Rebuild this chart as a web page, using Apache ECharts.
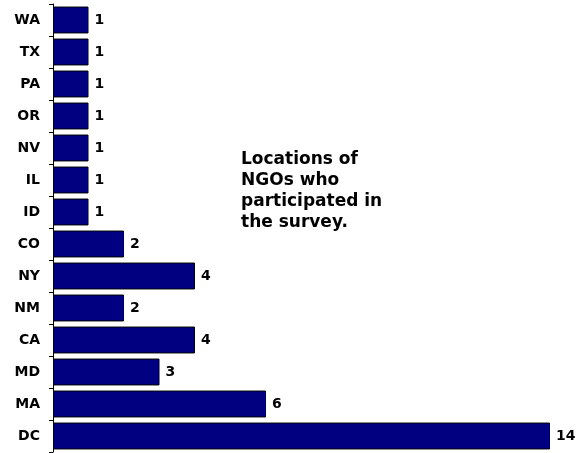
<!DOCTYPE html>
<html>
<head>
<meta charset="utf-8">
<script src="https://cdn.jsdelivr.net/npm/echarts@6/dist/echarts.min.js"></script>
<style>html,body{margin:0;padding:0;background:#fff}#c{width:578px;height:453px}</style>
</head>
<body>
<div id="c"></div>
<script>
var categories = ['DC','MA','MD','CA','NM','NY','CO','ID','IL','NV','OR','PA','TX','WA'];
var values = [14,6,3,4,2,4,2,1,1,1,1,1,1,1];
var titleLines = ['Locations of','NGOs who','participated in','the survey.'];

var font = 'Verdana, "DejaVu Sans", sans-serif';
var chart = echarts.init(document.getElementById('c'), null, {renderer:'canvas'});
chart.setOption({
  animation: false,
  backgroundColor: '#fff',
  title: {
    text: titleLines.join('\n'),
    left: 241, top: 149, padding: 0,
    textStyle: {fontFamily: font, fontWeight: 'bold', fontSize: 17, lineHeight: 21, color: '#000'}
  },
  grid: {left: 53, right: 28, top: 4, bottom: 1},
  xAxis: {type: 'value', min: 0, max: 14, show: false},
  yAxis: {
    type: 'category', data: categories,
    axisLine: {lineStyle: {color: '#000', width: 1}},
    axisTick: {show: true, length: 4, lineStyle: {color: '#000'}},
    axisLabel: {fontFamily: font, fontWeight: 'bold', fontSize: 14, color: '#000', margin: 13}
  },
  series: [{
    type: 'bar', data: values,
    barCategoryGap: '16%',
    itemStyle: {color: '#000080', borderColor: '#000', borderWidth: 1},
    label: {show: true, position: 'right', distance: 6, fontFamily: font, fontWeight: 'bold', fontSize: 14, color: '#000'}
  }]
});
</script>
</body>
</html>
